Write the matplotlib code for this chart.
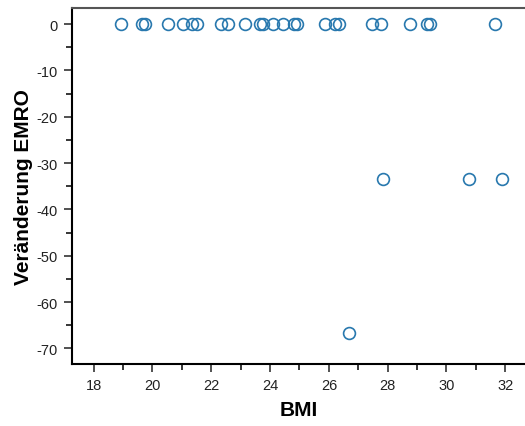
import matplotlib.pyplot as plt
from matplotlib.ticker import MultipleLocator

plt.rcParams['font.family'] = ['Liberation Sans', 'DejaVu Sans']
plt.rcParams['axes.unicode_minus'] = False

# BMI against change in EMRO
bmi = [18.93, 19.63, 19.74, 20.52, 21.05, 21.33, 21.50, 22.33, 22.58, 23.15,
       23.66, 23.75, 24.11, 24.45, 24.81, 24.93, 25.87, 26.21, 26.35, 27.46,
       27.76, 28.76, 29.33, 29.44, 31.65,
       27.85, 30.78, 31.88, 26.67]
emro_change = [0] * 25 + [-33.33, -33.33, -33.33, -66.67]

fig = plt.figure(figsize=(5.25, 4.27), dpi=100)
ax = fig.add_axes([0.137, 0.145, 0.863, 0.834])

ax.plot(bmi, emro_change, linestyle='none', marker='o', markersize=8.5,
        markerfacecolor='none', markeredgecolor='#2878ae', markeredgewidth=1.2)

ax.set_xlim(17.26, 32.67)
ax.set_ylim(-73.4, 3.5)

ax.xaxis.set_major_locator(MultipleLocator(2))
ax.xaxis.set_minor_locator(MultipleLocator(1))
ax.yaxis.set_major_locator(MultipleLocator(10))
ax.yaxis.set_minor_locator(MultipleLocator(5))

ax.tick_params(which='major', length=6, width=1.1, labelsize=10.5, colors='#222222', pad=4)
ax.tick_params(which='minor', length=4, width=1.1)

ax.spines['right'].set_visible(False)
ax.spines['left'].set_linewidth(1.5)
ax.spines['bottom'].set_linewidth(1.5)
ax.spines['top'].set_linewidth(1.5)
ax.spines['top'].set_color('#555555')

ax.set_xlabel('BMI', fontsize=15, fontweight='bold', labelpad=6)
ax.set_ylabel('Veränderung EMRO', fontsize=15, fontweight='bold', labelpad=3)

fig.savefig('out.png', dpi=100)
